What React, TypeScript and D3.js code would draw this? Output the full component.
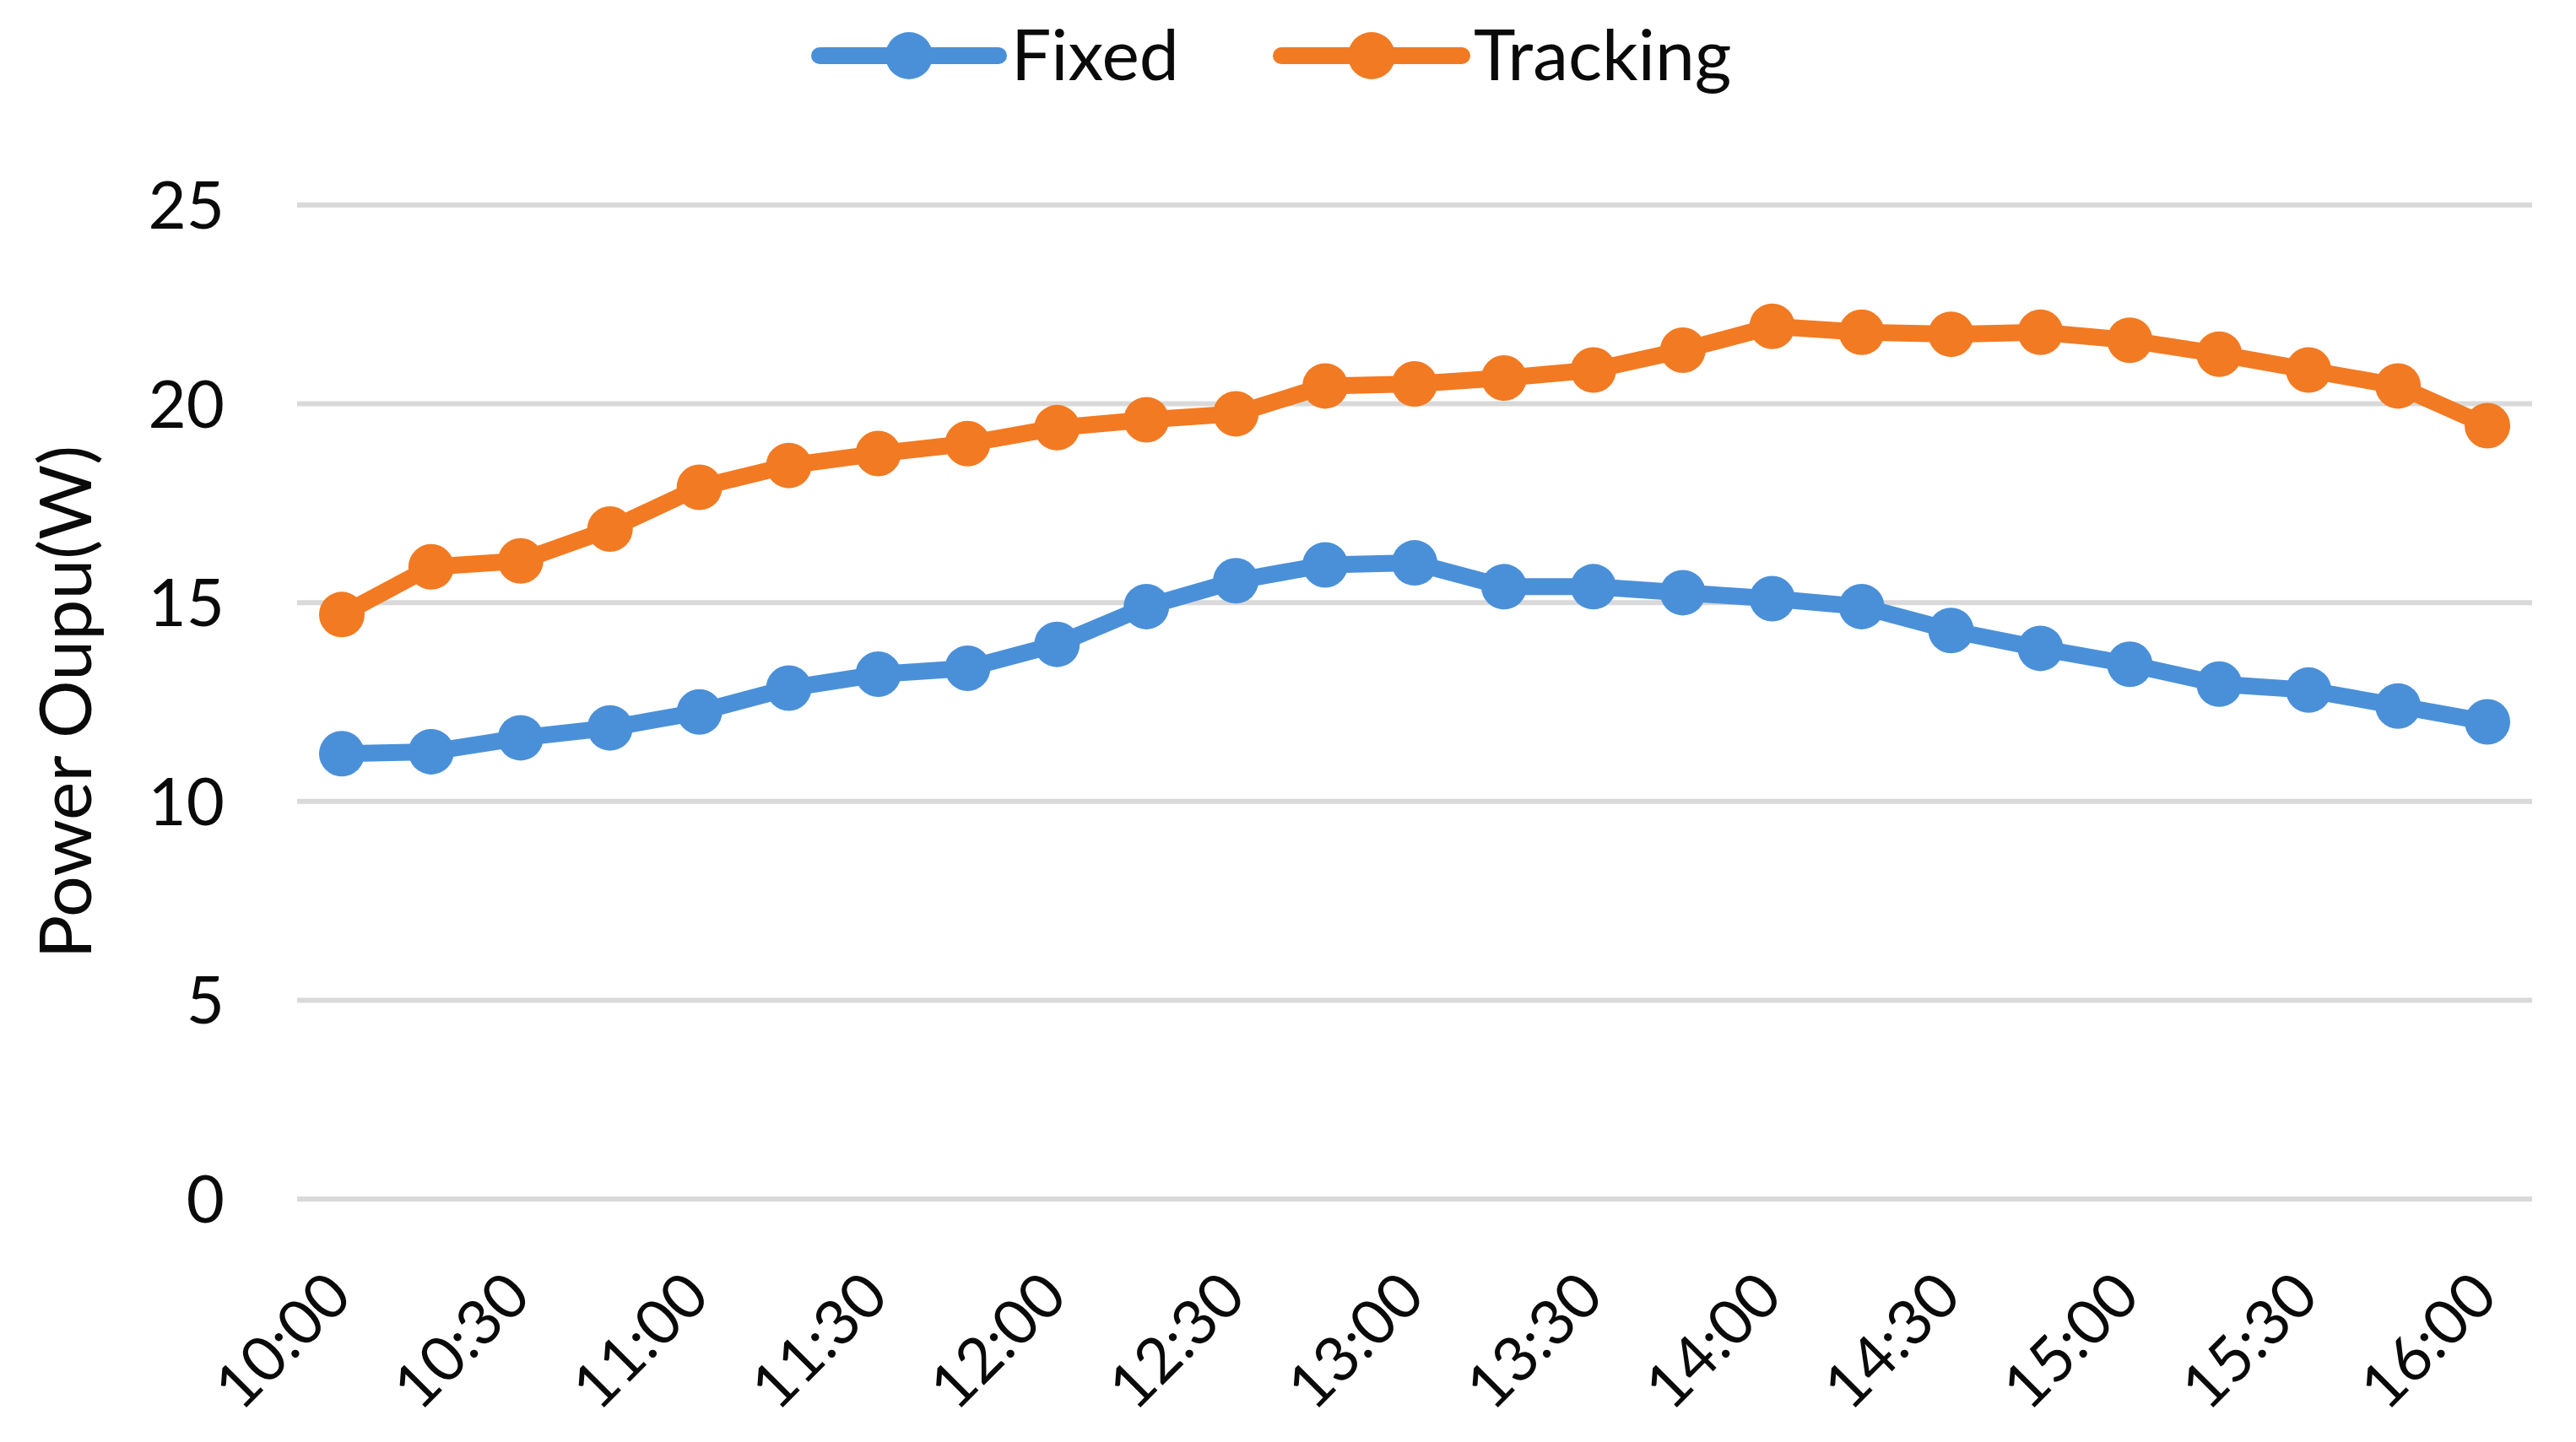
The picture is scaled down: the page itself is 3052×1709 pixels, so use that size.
import React from "react";
import * as d3 from "d3";

const times = [
  "10:00","10:15","10:30","10:45","11:00","11:15","11:30","11:45","12:00","12:15","12:30","12:45",
  "13:00","13:15","13:30","13:45","14:00","14:15","14:30","14:45","15:00","15:15","15:30","15:45","16:00",
];
const fixedValues = [
  11.2, 11.25, 11.6, 11.85, 12.25, 12.85, 13.2, 13.35, 13.95, 14.9, 15.55, 15.95, 16.0,
  15.4, 15.4, 15.25, 15.1, 14.9, 14.3, 13.85, 13.45, 12.95, 12.8, 12.4, 12.0,
];
const trackingValues = [
  14.7, 15.9, 16.05, 16.85, 17.9, 18.45, 18.75, 19.0, 19.4, 19.6, 19.75, 20.45, 20.5,
  20.65, 20.85, 21.35, 21.95, 21.8, 21.75, 21.8, 21.6, 21.25, 20.85, 20.45, 19.45,
];
const yTicks = [0, 5, 10, 15, 20, 25];
const xTickLabels = times.filter((_, i) => i % 2 === 0);
const seriesNames = ["Fixed", "Tracking"];
const seriesColors = ["#4a90d9", "#f27a22"];
const yTitle = "Power Oupu(W)";

const W = 3052;
const H = 1709;
const FONT = "Lato, 'Open Sans', sans-serif";

export default function App() {
  const x = d3.scaleBand<string>().domain(times).range([352, 3000]);
  const y = d3.scaleLinear().domain([0, 25]).range([1421, 243]);
  const cx = (t: string) => (x(t) as number) + x.bandwidth() / 2;
  const line = d3
    .line<number>()
    .x((_, i) => cx(times[i]))
    .y((v) => y(v));
  const series = [fixedValues, trackingValues];

  const legendItems = [
    { name: seriesNames[0], color: seriesColors[0], x0: 971, x1: 1183, tx: 1198 },
    { name: seriesNames[1], color: seriesColors[1], x0: 1518, x1: 1732, tx: 1746 },
  ];

  return (
    <div style={{ position: "absolute", left: 0, top: 0, background: "#fff" }}>
      <svg width={W} height={H} viewBox={`0 0 ${W} ${H}`} style={{ display: "block" }}>
        <rect x={0} y={0} width={W} height={H} fill="#ffffff" />
        {yTicks.map((t) => (
          <line key={"g" + t} x1={352} x2={3000} y1={y(t)} y2={y(t)} stroke="#d9d9d9" strokeWidth={6} />
        ))}
        {yTicks.map((t) => (
          <text
            key={"yl" + t}
            x={266}
            y={y(t) + 28}
            textAnchor="end"
            fontFamily={FONT}
            fontSize={78}
            fill="#0a0a0a"
          >
            {t}
          </text>
        ))}
        <text
          transform={`translate(108, 832) rotate(-90)`}
          textAnchor="middle"
          fontFamily={FONT}
          fontSize={86}
          fill="#0a0a0a"
        >
          {yTitle}
        </text>
        {xTickLabels.map((t) => (
          <text
            key={"xl" + t}
            transform={`translate(${cx(t) + 15}, 1540) rotate(-45)`}
            textAnchor="end"
            fontFamily={FONT}
            fontSize={74}
            fill="#0a0a0a"
          >
            {t}
          </text>
        ))}
        {series.map((vals, si) => (
          <g key={"s" + si}>
            <path
              d={line(vals) as string}
              fill="none"
              stroke={seriesColors[si]}
              strokeWidth={20}
              strokeLinejoin="round"
              strokeLinecap="round"
            />
            {vals.map((v, i) => (
              <circle key={i} cx={cx(times[i])} cy={y(v)} r={27} fill={seriesColors[si]} />
            ))}
          </g>
        ))}
        {legendItems.map((it) => (
          <g key={it.name}>
            <line
              x1={it.x0}
              x2={it.x1}
              y1={66}
              y2={66}
              stroke={it.color}
              strokeWidth={20}
              strokeLinecap="round"
            />
            <circle cx={(it.x0 + it.x1) / 2} cy={66} r={28} fill={it.color} />
            <text x={it.tx} y={95} fontFamily={FONT} fontSize={84} fill="#0a0a0a">
              {it.name}
            </text>
          </g>
        ))}
      </svg>
    </div>
  );
}
